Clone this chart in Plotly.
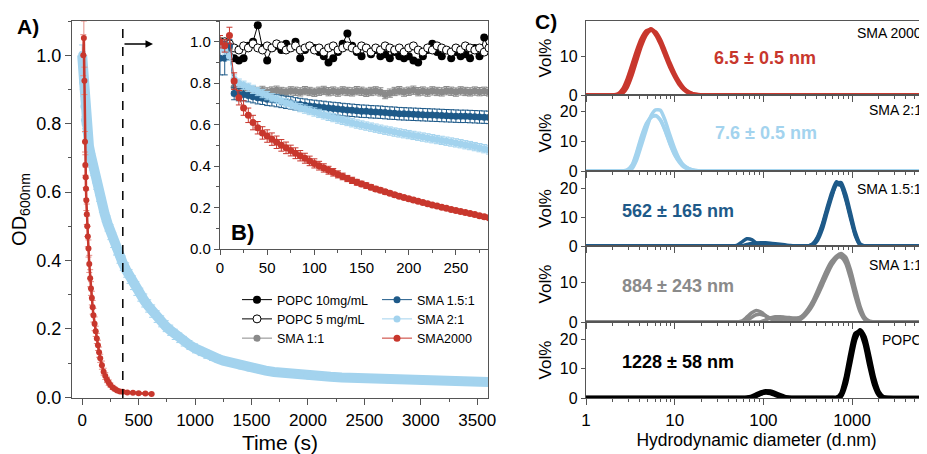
import plotly.graph_objects as go

# ---- Panel A: long turbidity traces (time s, OD600) ----
t_sma2000_long = [10, 15, 20, 25, 28, 31, 34, 37, 41, 45, 50, 56, 63, 71, 78, 86, 93, 100, 110, 120,
                  130, 140, 150, 160, 175, 190, 205, 220, 235, 250, 270, 290, 310, 335, 360, 400, 450,
                  500, 560, 615]
od_sma2000_long = [1.0, 1.05, 0.925, 0.747, 0.679, 0.643, 0.61, 0.576, 0.535, 0.5, 0.47, 0.435, 0.39,
                   0.348, 0.318, 0.29, 0.263, 0.24, 0.215, 0.193, 0.172, 0.152, 0.132, 0.114, 0.094,
                   0.075, 0.062, 0.051, 0.043, 0.036, 0.029, 0.024, 0.02, 0.017, 0.016, 0.014, 0.013,
                   0.012, 0.011, 0.01]
err_sma2000_long = [0.06, 0.05, 0.04, 0.03, 0.03, 0.03, 0.03, 0.03, 0.03, 0.03, 0.03, 0.025, 0.025,
                    0.025, 0.02, 0.02, 0.02, 0.02, 0.02, 0.015, 0.015, 0.015, 0.015, 0.012, 0.012,
                    0.01, 0.01, 0.008, 0.008, 0.006, 0.006, 0.005, 0.004, 0.004, 0.003, 0.003, 0.003,
                    0.003, 0.002, 0.002]

t_sma21_long = [0, 5, 10, 15, 20, 25, 30, 40, 50, 60, 75, 90, 100, 125, 150, 175, 200, 225, 250, 275,
                300, 330, 360, 390, 420, 450, 480, 515, 550, 585, 620, 660, 700, 740, 780, 820, 860,
                900, 950, 1000, 1050, 1100, 1150, 1200, 1250, 1325, 1400, 1475, 1550, 1625, 1700,
                1775, 1850, 1925, 2000, 2100, 2200, 2300, 2400, 2500, 2600, 2700, 2800, 2900, 3000,
                3100, 3200, 3300, 3400, 3500, 3600]
od_sma21_long = [1.0, 0.98, 0.92, 0.90, 0.85, 0.81, 0.80, 0.775, 0.755, 0.735, 0.71, 0.685, 0.67,
                 0.63, 0.595, 0.563, 0.535, 0.508, 0.483, 0.46, 0.438, 0.414, 0.392, 0.372, 0.353,
                 0.335, 0.318, 0.3, 0.283, 0.267, 0.252, 0.236, 0.222, 0.208, 0.196, 0.184, 0.174,
                 0.164, 0.153, 0.143, 0.134, 0.126, 0.119, 0.113, 0.107, 0.1, 0.093, 0.087, 0.082,
                 0.078, 0.074, 0.071, 0.068, 0.066, 0.064, 0.062, 0.06, 0.058, 0.057, 0.056, 0.054,
                 0.053, 0.052, 0.051, 0.05, 0.049, 0.048, 0.047, 0.047, 0.046, 0.045]
err_sma21_long = [0.03, 0.03, 0.04, 0.03, 0.03, 0.025, 0.025, 0.022, 0.022, 0.022, 0.022, 0.022,
                  0.022, 0.022, 0.022, 0.022, 0.022, 0.022, 0.022, 0.022, 0.022, 0.022, 0.021,
                  0.021, 0.02, 0.02, 0.02, 0.019, 0.019, 0.018, 0.018, 0.017, 0.016, 0.016, 0.015,
                  0.015, 0.014, 0.014, 0.013, 0.013, 0.012, 0.012, 0.011, 0.011, 0.01, 0.01, 0.009,
                  0.009, 0.008, 0.008, 0.008, 0.007, 0.007, 0.007, 0.006, 0.006, 0.006, 0.006,
                  0.005, 0.005, 0.005, 0.005, 0.005, 0.005, 0.004, 0.004, 0.004, 0.004, 0.004,
                  0.004, 0.004]

# ---- Panel B: first 285 s ----
t_inset = [0, 5, 10, 15, 20, 25, 30, 35, 40, 45, 50, 55, 60, 65, 70, 75, 80, 85, 90, 95, 100, 105,
           110, 115, 120, 125, 130, 135, 140, 145, 150, 155, 160, 165, 170, 175, 180, 185, 190,
           195, 200, 205, 210, 215, 220, 225, 230, 235, 240, 245, 250, 255, 260, 265, 270, 275,
           280, 285]
od_popc10 = [1.0, 0.98, 0.93, 0.92, 0.91, 0.92, 0.98, 1.0, 1.08, 0.97, 0.91, 0.97, 0.98, 0.96, 0.99,
             0.97, 1.0, 0.92, 0.96, 0.98, 0.97, 0.95, 0.93, 0.90, 0.92, 0.95, 0.99, 1.04, 0.98, 0.95,
             0.93, 0.97, 0.94, 0.96, 0.93, 0.94, 0.92, 0.95, 0.93, 0.92, 0.93, 0.91, 0.90, 0.93,
             0.96, 0.99, 0.95, 0.93, 0.96, 0.92, 0.95, 0.93, 0.94, 0.92, 0.97, 0.93, 1.02, 0.96]
od_popc5 = [1.0, 1.0, 0.99, 0.97, 0.96, 0.98, 0.97, 0.99, 0.97, 0.96, 0.98, 0.97, 0.99, 0.98, 0.96,
            0.97, 0.98, 0.96, 0.97, 0.98, 0.96, 0.97, 0.95, 0.97, 0.98, 0.96, 0.97, 0.98, 0.97, 0.96,
            0.98, 0.97, 0.95, 0.97, 0.96, 0.98, 0.97, 0.96, 0.97, 0.95, 0.97, 0.98, 0.96, 0.95,
            0.97, 0.96, 0.98, 0.97, 0.96, 0.95, 0.97, 0.96, 0.98, 0.97, 0.96, 0.97, 0.95, 0.97]
od_sma11 = [1.0, 0.99, 0.97, 0.78, 0.775, 0.77, 0.765, 0.762, 0.76, 0.765, 0.758, 0.762, 0.766,
            0.76, 0.757, 0.763, 0.761, 0.758, 0.764, 0.76, 0.756, 0.761, 0.765, 0.759, 0.762, 0.757,
            0.763, 0.76, 0.758, 0.764, 0.761, 0.756, 0.76, 0.763, 0.758, 0.745, 0.752, 0.76, 0.764,
            0.757, 0.761, 0.766, 0.759, 0.762, 0.757, 0.763, 0.76, 0.758, 0.764, 0.761, 0.757,
            0.763, 0.76, 0.758, 0.762, 0.759, 0.761, 0.758]
od_sma15 = [0.92, 0.92, 0.98, 0.75, 0.745, 0.745, 0.74, 0.735, 0.73, 0.727, 0.722, 0.72, 0.716,
            0.712, 0.708, 0.705, 0.70, 0.697, 0.694, 0.69, 0.688, 0.685, 0.683, 0.68, 0.678, 0.676,
            0.673, 0.671, 0.669, 0.667, 0.665, 0.664, 0.662, 0.661, 0.66, 0.658, 0.656, 0.655,
            0.653, 0.652, 0.651, 0.65, 0.649, 0.648, 0.647, 0.646, 0.645, 0.644, 0.643, 0.642,
            0.641, 0.64, 0.64, 0.639, 0.638, 0.637, 0.636, 0.635]
od_sma21 = [0.97, 0.96, 0.93, 0.82, 0.80, 0.79, 0.78, 0.77, 0.76, 0.75, 0.74, 0.73, 0.722, 0.714,
            0.706, 0.698, 0.69, 0.682, 0.675, 0.668, 0.661, 0.654, 0.647, 0.64, 0.634, 0.627, 0.621,
            0.615, 0.609, 0.603, 0.598, 0.593, 0.588, 0.583, 0.578, 0.573, 0.569, 0.564, 0.56,
            0.556, 0.552, 0.548, 0.544, 0.54, 0.536, 0.532, 0.528, 0.524, 0.52, 0.516, 0.512,
            0.508, 0.503, 0.499, 0.494, 0.489, 0.484, 0.478]
od_sma2000 = [1.00, 0.98, 1.03, 0.81, 0.73, 0.68, 0.645, 0.61, 0.585, 0.56, 0.545, 0.53, 0.515,
              0.50, 0.488, 0.475, 0.462, 0.45, 0.438, 0.425, 0.413, 0.402, 0.391, 0.38, 0.37, 0.36,
              0.35, 0.34, 0.331, 0.322, 0.314, 0.306, 0.298, 0.29, 0.283, 0.276, 0.269, 0.262,
              0.255, 0.248, 0.242, 0.236, 0.23, 0.224, 0.218, 0.212, 0.207, 0.201, 0.196, 0.191,
              0.186, 0.181, 0.176, 0.171, 0.166, 0.161, 0.156, 0.151]
err_sma2000 = [0.03, 0.03, 0.04, 0.04, 0.035, 0.035, 0.035, 0.035, 0.03, 0.03, 0.03, 0.03, 0.03,
               0.028, 0.028, 0.026, 0.026, 0.025, 0.024, 0.023, 0.022, 0.021, 0.02, 0.019, 0.018,
               0.017, 0.016, 0.015, 0.015, 0.014, 0.013, 0.013, 0.012, 0.012, 0.011, 0.011, 0.01,
               0.01, 0.01, 0.009, 0.009, 0.009, 0.008, 0.008, 0.008, 0.007, 0.007, 0.007, 0.006,
               0.006, 0.006, 0.006, 0.005, 0.005, 0.005, 0.005, 0.005, 0.005]
err_sma15 = [0.08, 0.08] + [0.03] * 56
err_sma11 = [0.02] * 58
err_sma21 = [0.02] * 58

# ---- Panel C: DLS size distributions (diameter nm, Vol%) ----
d_small = [1, 2.0, 2.3, 2.6, 2.9, 3.3, 3.7, 4.2, 4.8, 5.4, 6.1, 6.9, 7.8, 8.8, 10, 11.3, 12.7, 14.4,
           16.3, 18.4, 20.8, 23.5, 10000]
d_large = [1, 40, 45, 51, 58, 65, 74, 83, 94, 106, 120, 136, 154, 174, 196, 222, 251, 283, 320, 362,
           409, 462, 522, 590, 667, 753, 851, 962, 1087, 1228, 1388, 1568, 1772, 2003, 2263, 2557,
           10000]
vol_sma2000 = [
    [0, 0, 0.1, 1.0, 3.0, 6.6, 10.0, 13.5, 16.0, 17.0, 16.0, 13.8, 10.8, 7.8, 5.1, 3.0, 1.6, 0.7,
     0.25, 0.07, 0, 0, 0],
    [0, 0, 0, 0.4, 1.8, 5.0, 8.6, 12.5, 15.5, 16.6, 16.2, 14.3, 11.4, 8.4, 5.6, 3.4, 1.8, 0.8, 0.3,
     0.1, 0, 0, 0],
    [0, 0, 0.3, 1.6, 4.0, 7.8, 11.3, 14.5, 16.5, 16.8, 15.4, 13.0, 10.0, 7.1, 4.6, 2.6, 1.3, 0.5,
     0.15, 0.03, 0, 0, 0],
]
vol_sma21 = [
    [0, 0, 0, 0, 0.3, 2.0, 6.0, 11.5, 16.0, 18.0, 18.5, 17.2, 13.8, 9.5, 5.6, 3.2, 1.7, 0.8, 0.3,
     0.08, 0, 0, 0],
    [0, 0, 0, 0, 0, 0.8, 3.5, 8.5, 14.0, 18.5, 20.5, 20.4, 17.0, 12.2, 7.5, 4.0, 1.9, 0.8, 0.3,
     0.08, 0, 0, 0],
    [0, 0, 0, 0, 0.2, 1.6, 5.4, 10.8, 15.5, 18.0, 18.6, 17.0, 13.5, 9.2, 5.4, 2.9, 1.3, 0.5, 0.15,
     0.04, 0, 0, 0],
]
vol_sma15 = [
    [0, 0, 0, 0.3, 1.5, 2.5, 2.2, 1.0, 0.2, 0, 0, 0, 0, 0, 0, 0, 0, 0, 0, 0.6, 2.8, 7.0, 12.5,
     17.6, 21.2, 21.0, 16.5, 10.2, 4.0, 0.5, 0, 0, 0, 0, 0, 0, 0],
    [0, 0, 0, 0, 0, 0.2, 0.6, 1.0, 1.1, 1.1, 1.0, 0.8, 0.6, 0.4, 0.2, 0, 0, 0, 0, 0.3, 2.0, 5.8,
     11.5, 17.0, 21.6, 22.0, 17.8, 11.4, 4.8, 0.8, 0, 0, 0, 0, 0, 0, 0],
    [0, 0, 0, 0, 0.1, 0.5, 0.9, 1.0, 0.9, 0.7, 0.5, 0.3, 0.1, 0, 0, 0, 0, 0, 0, 0.8, 3.2, 7.5,
     13.2, 18.5, 22.3, 21.0, 16.0, 9.5, 3.6, 0.4, 0, 0, 0, 0, 0, 0, 0],
]
vol_sma11 = [
    [0, 0, 0, 0, 0.3, 1.2, 2.3, 2.9, 2.5, 1.6, 0.8, 0.3, 0.1, 0, 0, 0.1, 0.4, 1.2, 2.5, 4.3, 6.6,
     9.2, 11.8, 14.2, 15.9, 16.7, 15.6, 12.3, 7.6, 3.4, 0.9, 0.1, 0, 0, 0, 0, 0],
    [0, 0, 0, 0, 0, 0, 0, 0, 0.1, 0.5, 1.0, 1.3, 1.3, 1.2, 1.1, 1.0, 1.1, 1.6, 2.8, 4.8, 7.4,
     10.2, 12.8, 15.0, 16.5, 17.1, 16.2, 13.0, 8.4, 4.0, 1.2, 0.2, 0, 0, 0, 0, 0],
    [0, 0, 0, 0, 0, 0.4, 1.2, 1.8, 1.9, 1.5, 1.0, 0.8, 0.8, 0.7, 0.6, 0.6, 0.9, 1.8, 3.3, 5.3,
     7.9, 10.6, 13.2, 15.2, 16.3, 16.2, 14.6, 10.8, 6.3, 2.6, 0.6, 0, 0, 0, 0, 0, 0],
]
vol_popc = [
    [0, 0, 0, 0, 0, 0.1, 0.5, 1.2, 1.9, 2.3, 2.0, 1.3, 0.6, 0.2, 0, 0, 0, 0, 0, 0, 0, 0, 0, 0, 0,
     1.0, 6.0, 14.0, 21.0, 23.0, 19.5, 12.5, 5.5, 1.4, 0.1, 0, 0],
    [0, 0, 0, 0, 0, 0, 0.2, 0.7, 1.5, 2.1, 2.2, 1.7, 1.0, 0.4, 0.1, 0, 0, 0, 0, 0, 0, 0, 0, 0, 0,
     0.6, 4.8, 12.5, 20.0, 23.2, 20.8, 14.2, 6.8, 2.0, 0.3, 0, 0],
    [0, 0, 0, 0, 0, 0, 0.3, 0.9, 1.6, 1.9, 1.7, 1.1, 0.5, 0.1, 0, 0, 0, 0, 0, 0, 0, 0, 0, 0, 0,
     1.5, 7.2, 15.5, 22.0, 22.6, 18.5, 11.0, 4.5, 1.0, 0, 0, 0],
]

RED = "#C8372D"
LBLUE = "#A3D3EE"
DBLUE = "#1E5A89"
GRAY = "#8A8A8A"
AX = "#555555"
FONT = "Liberation Sans, Arial, sans-serif"

# the page body adds an 8px margin, so the figure is drawn 8px smaller and
# reference pixel positions are shifted by that offset
OFF = 8
W, H = 927 - OFF, 454 - OFF


def px(x):
    return (x - OFF) / W


def py(y):
    return 1 - (y - OFF) / H


fig = go.Figure()

# main panel A
fig.add_trace(go.Scatter(
    x=t_sma21_long, y=od_sma21_long, mode="lines+markers", xaxis="x", yaxis="y",
    line=dict(color=LBLUE, width=10), marker=dict(color=LBLUE, size=8),
    error_y=dict(array=err_sma21_long, color=LBLUE, thickness=1, width=3),
    showlegend=False))
fig.add_trace(go.Scatter(
    x=t_sma2000_long, y=od_sma2000_long, mode="lines+markers", xaxis="x", yaxis="y",
    line=dict(color=RED, width=2.5), marker=dict(color=RED, size=6),
    error_y=dict(array=err_sma2000_long, color="#E58D86", thickness=1, width=3),
    showlegend=False))

# inset B
inset = [
    ("POPC 10mg/mL", od_popc10, None, "black", dict(color="black", size=8), "legend"),
    ("POPC 5 mg/mL", od_popc5, None, "black",
     dict(color="white", size=8, line=dict(color="black", width=1)), "legend"),
    ("SMA 1:1", od_sma11, err_sma11, GRAY, dict(color=GRAY, size=7), "legend"),
    ("SMA 1.5:1", od_sma15, err_sma15, DBLUE, dict(color=DBLUE, size=7), "legend2"),
    ("SMA 2:1", od_sma21, err_sma21, LBLUE, dict(color=LBLUE, size=7), "legend2"),
    ("SMA2000", od_sma2000, err_sma2000, RED, dict(color=RED, size=7), "legend2"),
]
for name, ys, err, col, mk, lg in inset:
    ebar = None
    if err is not None:
        ebar = dict(array=err, color=col, thickness=1, width=3)
    fig.add_trace(go.Scatter(
        x=t_inset, y=ys, mode="lines+markers", name=name, xaxis="x2", yaxis="y2",
        line=dict(color=col, width=1), marker=mk, error_y=ebar, legend=lg))

# panel C
dls = [
    (d_small, vol_sma2000, RED, 3.5),
    (d_small, vol_sma21, LBLUE, 3.5),
    (d_large, vol_sma15, DBLUE, 3.5),
    (d_large, vol_sma11, GRAY, 3.5),
    (d_large, vol_popc, "black", 4.5),
]
for i, (dx, runs, col, lw) in enumerate(dls):
    for run in runs:
        fig.add_trace(go.Scatter(
            x=dx, y=run, mode="lines", xaxis=f"x{i + 3}", yaxis=f"y{i + 3}",
            line=dict(color=col, width=lw, shape="spline", smoothing=0.6),
            showlegend=False))

axis_common = dict(showline=True, linecolor=AX, linewidth=1.3, mirror=True, ticks="outside",
                   tickcolor=AX, showgrid=False, zeroline=False, automargin=False)

layout = dict(
    width=W, height=H, margin=dict(l=0, r=0, t=0, b=0),
    paper_bgcolor="white", plot_bgcolor="white",
    font=dict(family=FONT, color="black"),
    xaxis=dict(domain=[px(72), px(488)], range=[-90, 3595], anchor="y",
               tickvals=[0, 500, 1000, 1500, 2000, 2500, 3000, 3500], ticklen=6,
               tickfont=dict(size=17),
               minor=dict(ticks="outside", dtick=250, tick0=0, ticklen=3, tickcolor=AX),
               title=dict(text="Time (s)", font=dict(size=21), standoff=6), **axis_common),
    yaxis=dict(domain=[py(398), py(21)], range=[-0.002, 1.1], anchor="x",
               tickvals=[0, 0.2, 0.4, 0.6, 0.8, 1.0], tickformat=".1f", ticklen=6,
               tickfont=dict(size=18),
               minor=dict(ticks="outside", dtick=0.1, tick0=0, ticklen=3, tickcolor=AX),
               title=dict(text="OD<sub>600nm</sub>", font=dict(size=20), standoff=4),
               **axis_common),
    xaxis2=dict(domain=[px(220), px(488)], range=[0, 284], anchor="y2",
                tickvals=[0, 50, 100, 150, 200, 250], ticklen=5, tickfont=dict(size=15),
                minor=dict(ticks="outside", dtick=25, tick0=0, ticklen=3, tickcolor=AX),
                **axis_common),
    yaxis2=dict(domain=[py(249), py(21)], range=[0, 1.1], anchor="x2",
                tickvals=[0, 0.2, 0.4, 0.6, 0.8, 1.0], tickformat=".1f", ticklen=5,
                tickfont=dict(size=15),
                minor=dict(ticks="outside", dtick=0.1, tick0=0, ticklen=3, tickcolor=AX),
                **axis_common),
    legend=dict(x=px(237), y=py(285), xanchor="left", yanchor="top", font=dict(size=12.5),
                bgcolor="rgba(0,0,0,0)", tracegroupgap=0, itemwidth=30),
    legend2=dict(x=px(377), y=py(285), xanchor="left", yanchor="top", font=dict(size=12.5),
                 bgcolor="rgba(0,0,0,0)", tracegroupgap=0, itemwidth=30),
)

minor_log = [2, 3, 4, 5, 6, 7, 8, 9, 20, 30, 40, 50, 60, 70, 80, 90, 200, 300, 400, 500, 600,
             700, 800, 900, 2000, 3000, 4000, 5000, 6000]
panel_bounds = [21, 95, 171, 246, 322, 398]
panel_ymax = [19, 25.5, 26, 19, 26]
for i in range(5):
    n = i + 3
    last = i == 4
    xa = dict(domain=[px(586), 1.0], type="log", range=[0, 3.845], anchor=f"y{n}",
              tickvals=[1, 10, 100, 1000], ticklen=6, tickfont=dict(size=17),
              showticklabels=last,
              minor=dict(ticks="outside", tickvals=minor_log, ticklen=3, tickcolor=AX),
              **axis_common)
    if last:
        xa["title"] = dict(text="Hydrodynamic diameter (d.nm)", font=dict(size=17.5), standoff=4)
    ya = dict(domain=[py(panel_bounds[i + 1]), py(panel_bounds[i])], range=[0, panel_ymax[i]],
              anchor=f"x{n}", tickvals=[0, 10, 20], ticklen=4, tickfont=dict(size=16),
              title=dict(text="Vol%", font=dict(size=17), standoff=3), **axis_common)
    layout[f"xaxis{n}"] = xa
    layout[f"yaxis{n}"] = ya

fig.update_layout(**layout)

# dashed marker of the zoomed region and arrow
fig.add_shape(type="line", xref="x", yref="y domain", x0=360, x1=360, y0=0, y1=1,
              line=dict(color="black", width=1.5, dash="dash"))
fig.add_annotation(xref="paper", yref="paper", x=px(153), y=py(44), ax=-30, ay=0, text="",
                   showarrow=True, arrowhead=2, arrowsize=1, arrowwidth=1.5, arrowcolor="black")

labels = [
    ("A)", 28, 26, 21), ("B)", 243, 232, 22), ("C)", 546, 22, 21),
]
for txt, x, y, s in labels:
    fig.add_annotation(xref="paper", yref="paper", x=px(x), y=py(y), text=f"<b>{txt}</b>",
                       xanchor="center", yanchor="middle", showarrow=False,
                       font=dict(size=s, color="black"))

size_text = [
    ("6.5 ± 0.5 nm", RED, 765, 58, "SMA 2000", 33),
    ("7.6 ± 0.5 nm", LBLUE, 766, 133, "SMA 2:1", 110),
    ("562 ± 165 nm", DBLUE, 678, 211, "SMA 1.5:1", 189),
    ("884 ± 243 nm", GRAY, 678, 286, "SMA 1:1", 265),
    ("1228 ± 58 nm", "black", 678, 362, "POPC", 340),
]
for val, col, x, y, name, ny in size_text:
    fig.add_annotation(xref="paper", yref="paper", x=px(x), y=py(y), text=f"<b>{val}</b>",
                       xanchor="center", yanchor="middle", showarrow=False,
                       font=dict(size=18, color=col))
    fig.add_annotation(xref="paper", yref="paper", x=px(924), y=py(ny), text=name,
                       xanchor="right", yanchor="middle", showarrow=False,
                       font=dict(size=14, color="black"))

fig.write_html("out.html")
